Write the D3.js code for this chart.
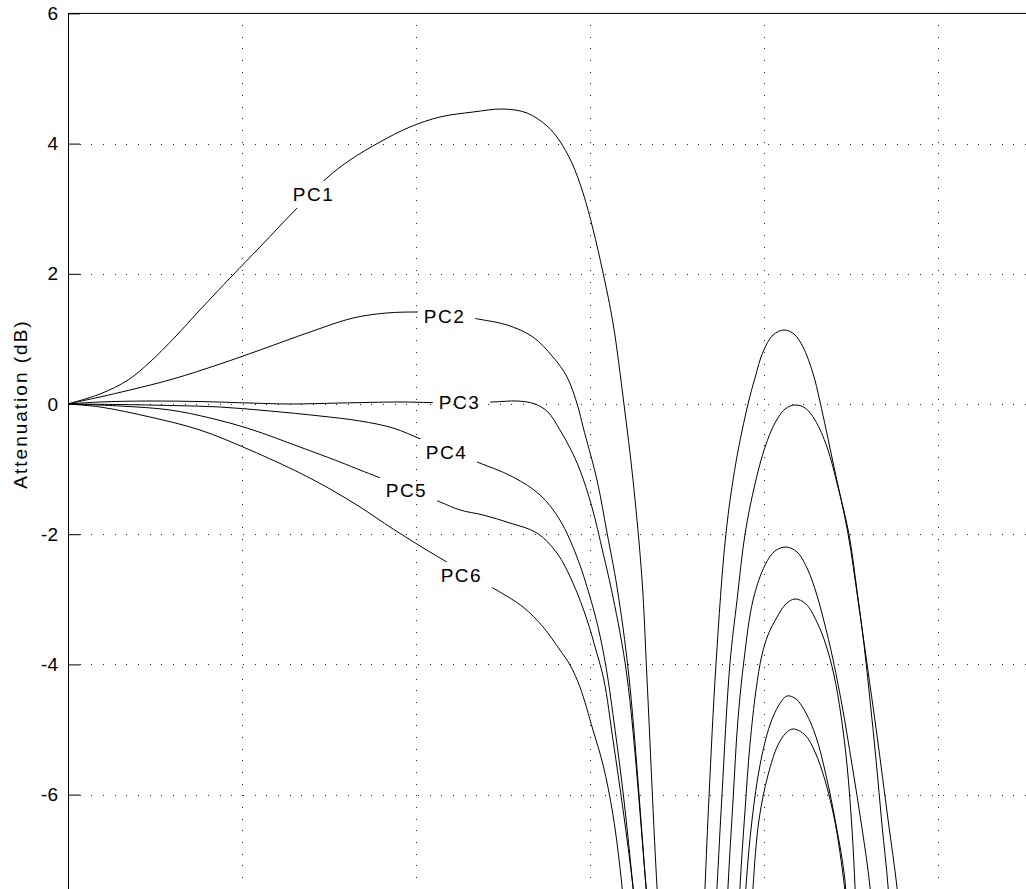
<!DOCTYPE html>
<html><head><meta charset="utf-8">
<script src="https://cdn.jsdelivr.net/npm/d3@7"></script>
<style>
body{margin:0;background:#fff}
svg{display:block}
text{font-family:"Liberation Sans",Arial,Helvetica,sans-serif;fill:#000}
</style>
</head><body>
<svg id="chart" width="1026" height="889"></svg>
<script>
// ---- data (x: frequency units, gridlines at 1..5; y: attenuation dB) ----
const yTicks = [6, 4, 2, 0, -2, -4, -6];
const xGrid = [1, 2, 3, 4, 5];
const names = ["PC1", "PC2", "PC3", "PC4", "PC5", "PC6"];

// main lobe
const pc1X = [0,0.187,0.348,0.474,0.618,0.761,0.945,1.106,1.325,1.497,1.624,1.796,1.968,2.141,2.330,2.503,2.641,2.756,2.825,2.899,2.963,3.020,3.078,3.135,3.198,3.250,3.302,3.330,3.388,3.417];
const pc1Y = [0,0.154,0.369,0.645,1.029,1.444,1.966,2.412,3.026,3.487,3.748,4.025,4.255,4.409,4.485,4.531,4.470,4.270,4.055,3.702,3.241,2.688,2.012,1.244,0,-1.167,-2.704,-4.194,-7.419,-8.541];
const pc2X = [0,0.187,0.359,0.606,0.876,1.106,1.394,1.641,1.836,2.009,2.187,2.359,2.526,2.675,2.790,2.871,2.934,2.963,3.043,3.101,3.158,3.227,3.325,3.359];
const pc2Y = [0,0.108,0.215,0.384,0.614,0.829,1.106,1.321,1.398,1.413,1.398,1.306,1.214,1.029,0.722,0.415,-0.046,-0.353,-1.167,-1.982,-2.811,-4.194,-7.419,-8.541];
const pc3X = [0,0.187,0.474,0.761,1.049,1.279,1.566,1.911,2.095,2.445,2.583,2.687,2.761,2.830,2.888,2.945,3.014,3.078,3.135,3.216,3.325,3.359];
const pc3Y = [0,0.031,0.046,0.038,0.015,0,0.015,0.031,0.023,0.031,0.046,0,-0.123,-0.399,-0.676,-1.014,-1.582,-2.289,-2.965,-4.194,-7.419,-8.541];
const pc4X = [0,0.302,0.589,0.876,1.164,1.451,1.681,1.871,2.043,2.325,2.560,2.716,2.830,2.928,3.003,3.049,3.095,3.147,3.198,3.250,3.290];
const pc4Y = [0,-0.008,-0.023,-0.046,-0.108,-0.184,-0.261,-0.369,-0.553,-0.860,-1.121,-1.398,-1.782,-2.350,-2.965,-3.425,-4.040,-5.008,-6.083,-7.419,-8.541];
const pc5X = [0,0.302,0.589,0.819,1.049,1.336,1.566,1.681,1.784,2.141,2.256,2.388,2.543,2.698,2.813,2.905,2.986,3.037,3.083,3.135,3.193,3.250,3.290];
const pc5Y = [0,-0.031,-0.092,-0.215,-0.384,-0.661,-0.891,-1.014,-1.121,-1.505,-1.628,-1.705,-1.828,-1.982,-2.289,-2.750,-3.318,-3.779,-4.240,-5.161,-6.237,-7.419,-8.541];
const pc6X = [0,0.187,0.474,0.761,1.049,1.336,1.509,1.681,1.871,2.141,2.445,2.618,2.733,2.830,2.888,2.945,3.020,3.078,3.135,3.187,3.221];
const pc6Y = [0,-0.046,-0.200,-0.399,-0.707,-1.060,-1.306,-1.582,-1.920,-2.366,-2.826,-3.118,-3.425,-3.779,-4.009,-4.347,-5.008,-5.545,-6.313,-7.419,-8.541];

// first side lobe
const sl1X = [3.647,3.664,3.687,3.727,3.784,3.842,3.911,3.951,3.997,4.055,4.118,4.175,4.227,4.284,4.325,4.399,4.486,4.543,4.595,4.652,4.716,4.767,4.807];
const sl1Y = [-8.541,-7.419,-6.022,-3.994,-1.997,-0.891,0,0.399,0.799,1.060,1.137,1.075,0.876,0.476,0.031,-0.891,-1.997,-3.011,-3.994,-5.084,-6.390,-7.419,-8.541];
const sl2X = [3.710,3.733,3.761,3.807,3.848,3.894,3.951,4.009,4.066,4.124,4.181,4.239,4.296,4.365,4.428,4.491,4.537,4.578,4.612,4.647,4.681,4.716,4.739];
const sl2Y = [-8.541,-7.419,-6.022,-3.994,-3.011,-1.997,-1.229,-0.661,-0.292,-0.077,-0.015,-0.061,-0.246,-0.661,-1.275,-1.997,-2.857,-3.702,-4.547,-5.469,-6.467,-7.419,-8.541];
const sl3X = [3.779,3.796,3.825,3.853,3.888,3.940,4.009,4.066,4.129,4.193,4.250,4.307,4.353,4.394,4.451,4.509,4.566,4.612,4.641];
const sl3Y = [-8.541,-7.419,-6.083,-4.854,-3.932,-3.011,-2.473,-2.258,-2.197,-2.273,-2.519,-2.934,-3.395,-3.856,-4.624,-5.545,-6.513,-7.419,-8.541];
const sl4X = [3.848,3.865,3.894,3.922,3.957,3.991,4.026,4.078,4.129,4.181,4.244,4.307,4.359,4.405,4.445,4.480,4.509,4.526,4.543];
const sl4Y = [-8.541,-7.419,-6.237,-5.238,-4.393,-3.856,-3.548,-3.272,-3.072,-2.995,-3.072,-3.349,-3.702,-4.163,-4.777,-5.545,-6.544,-7.419,-8.541];
const sl5X = [3.876,3.899,3.934,3.980,4.037,4.089,4.135,4.187,4.244,4.302,4.359,4.417,4.468,4.491];
const sl5Y = [-8.541,-7.419,-6.390,-5.545,-4.931,-4.624,-4.485,-4.531,-4.747,-5.115,-5.699,-6.467,-7.312,-8.541];
const sl6X = [3.922,3.940,3.974,4.026,4.083,4.129,4.170,4.239,4.296,4.353,4.411,4.457,4.491];
const sl6Y = [-8.541,-7.419,-6.390,-5.699,-5.238,-5.054,-4.992,-5.084,-5.346,-5.776,-6.421,-7.235,-8.080];

// label anchor points (data units)
const labelX = [1.414, 2.167, 2.253, 2.178, 1.948, 2.264];
const labelY = [3.226, 1.352, 0.031, -0.737, -1.321, -2.627];

// ---- chart ----
const W = 1026, H = 889;
const svg = d3.select("#chart");
const x = d3.scaleLinear().domain([0, 6]).range([67.5, 67.5 + 6 * 174]);
const y = d3.scaleLinear().domain([-7.5, 6]).range([404 + 65.1 * 7.5, 404 - 65.1 * 6]);
const plotLeft = 68, plotTop = y(6);

const defs = svg.append("defs");
defs.append("clipPath").attr("id", "plotClip")
  .append("rect").attr("x", plotLeft).attr("y", plotTop).attr("width", W - plotLeft).attr("height", H - plotTop);

// grid
const grid = svg.append("g").attr("stroke", "#222").attr("stroke-width", 1)
  .attr("stroke-dasharray", "1,10.67").attr("shape-rendering", "crispEdges");
grid.selectAll("line.v").data(xGrid).join("line").attr("class", "v")
  .attr("x1", d => Math.round(x(d)) + 0.5).attr("x2", d => Math.round(x(d)) + 0.5)
  .attr("y1", plotTop).attr("y2", H);
grid.selectAll("line.h").data(yTicks.filter(v => v < 6)).join("line").attr("class", "h")
  .attr("x1", plotLeft).attr("x2", W)
  .attr("y1", d => Math.round(y(d)) + 0.5).attr("y2", d => Math.round(y(d)) + 0.5);

// axes
const yAxis = d3.axisLeft(y).tickValues(yTicks).tickSizeInner(-12).tickSizeOuter(0).tickPadding(10)
  .tickFormat(d3.format("d"));
const ag = svg.append("g").attr("transform", `translate(${plotLeft},0)`).call(yAxis);
ag.select(".domain").attr("stroke", "#000");
ag.selectAll(".tick line").attr("stroke", "#000");
ag.selectAll(".tick text").attr("font-size", 19).attr("font-family", '"Liberation Sans",Arial,sans-serif')
  .text(d => d < 0 ? "-" + Math.abs(d) : String(d));
svg.append("line").attr("x1", plotLeft).attr("x2", W).attr("y1", plotTop).attr("y2", plotTop)
  .attr("stroke", "#000").attr("stroke-width", 1);

svg.append("text").attr("transform", `translate(27,404) rotate(-90)`)
  .attr("text-anchor", "middle").attr("font-size", 19).attr("letter-spacing", "2px")
  .text("Attenuation (dB)");

// labels (drawn first to measure for gaps)
const labG = svg.append("g");
const labels = labG.selectAll("text").data(names).join("text")
  .attr("x", (d, i) => x(labelX[i])).attr("y", (d, i) => y(labelY[i]) + 7)
  .attr("text-anchor", "middle").attr("font-size", 19).attr("letter-spacing", "1.5px")
  .text(d => d);

const mask = defs.append("mask").attr("id", "gapMask").attr("maskUnits", "userSpaceOnUse")
  .attr("x", 0).attr("y", 0).attr("width", W).attr("height", H);
mask.append("rect").attr("x", 0).attr("y", 0).attr("width", W).attr("height", H).attr("fill", "#fff");
labels.each(function () {
  const b = this.getBBox();
  mask.append("rect").attr("x", b.x - 6).attr("y", b.y - 3)
    .attr("width", b.width + 16).attr("height", b.height + 6).attr("fill", "#000");
});

// curves
const line = d3.line().x(d => x(d[0])).y(d => y(d[1])).curve(d3.curveCatmullRom.alpha(0.5));
const series = [
  [pc1X, pc1Y], [pc2X, pc2Y], [pc3X, pc3Y], [pc4X, pc4Y], [pc5X, pc5Y], [pc6X, pc6Y],
  [sl1X, sl1Y], [sl2X, sl2Y], [sl3X, sl3Y], [sl4X, sl4Y], [sl5X, sl5Y], [sl6X, sl6Y]
];
const cg = svg.append("g").attr("clip-path", "url(#plotClip)")
  .append("g").attr("mask", "url(#gapMask)");
cg.selectAll("path").data(series).join("path")
  .attr("d", s => line(s[0].map((v, i) => [v, s[1][i]])))
  .attr("fill", "none").attr("stroke", "#000").attr("stroke-width", 1);
labG.raise();
</script>
</body></html>
